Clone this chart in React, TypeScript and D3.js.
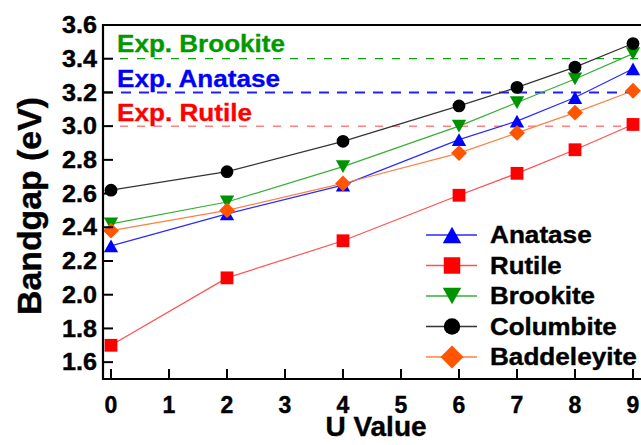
import React from 'react'
import * as d3 from 'd3'

const uValues = [0, 2, 4, 6, 7, 8, 9]
const anatase = [2.29, 2.48, 2.65, 2.92, 3.03, 3.17, 3.34]
const rutile = [1.7, 2.1, 2.32, 2.59, 2.72, 2.86, 3.01]
const brookite = [2.42, 2.55, 2.76, 3.0, 3.14, 3.28, 3.43]
const columbite = [2.62, 2.73, 2.91, 3.12, 3.23, 3.35, 3.49]
const baddeleyite = [2.38, 2.5, 2.66, 2.84, 2.96, 3.08, 3.21]

const xTicks = [0, 1, 2, 3, 4, 5, 6, 7, 8, 9]
const yTicks = [1.6, 1.8, 2.0, 2.2, 2.4, 2.6, 2.8, 3.0, 3.2, 3.4, 3.6]

const expNames = ['Exp. Brookite', 'Exp. Anatase', 'Exp. Rutile']
const expValues = [3.4, 3.2, 3.0]

type Shape = 'triUp' | 'square' | 'triDown' | 'circle' | 'diamond'

const series = [
  { name: 'Anatase', values: anatase, shape: 'triUp' as Shape, fill: '#0000ff', line: '#2a2aff' },
  { name: 'Rutile', values: rutile, shape: 'square' as Shape, fill: '#ff0000', line: '#ff5050' },
  { name: 'Brookite', values: brookite, shape: 'triDown' as Shape, fill: '#009300', line: '#33b033' },
  { name: 'Columbite', values: columbite, shape: 'circle' as Shape, fill: '#000000', line: '#333333' },
  { name: 'Baddeleyite', values: baddeleyite, shape: 'diamond' as Shape, fill: '#ff5500', line: '#ff8040' },
]

// reference lines + their labels
const expStyle = [
  { color: '#009900', dashColor: '#10a010', width: 1.3, dash: '8,9', len: 168, base: 52 },
  { color: '#0000ff', dashColor: '#2020ff', width: 2, dash: '10,8', len: 163, base: 87 },
  { color: '#ff0000', dashColor: '#ff8080', width: 1.5, dash: '8,9', len: 135, base: 120.5 },
]
const legendLens = [101.7, 71.7, 105, 126.7, 146.7]

function marker(shape: Shape, cx: number, cy: number, s: number) {
  if (shape === 'circle') return `M${cx - s / 2},${cy}a${s / 2},${s / 2} 0 1,0 ${s},0a${s / 2},${s / 2} 0 1,0 ${-s},0Z`
  if (shape === 'square') return `M${cx - s / 2},${cy - s / 2}h${s}v${s}h${-s}Z`
  if (shape === 'diamond') return `M${cx},${cy - s * 0.62}L${cx + s * 0.62},${cy}L${cx},${cy + s * 0.62}L${cx - s * 0.62},${cy}Z`
  const w = s * 1.12
  const h = s
  if (shape === 'triUp') return `M${cx},${cy - h / 2}L${cx + w / 2},${cy + h / 2}L${cx - w / 2},${cy + h / 2}Z`
  return `M${cx},${cy + h / 2}L${cx + w / 2},${cy - h / 2}L${cx - w / 2},${cy - h / 2}Z`
}

export default function App() {
  const left = 103
  const top = 25
  const bottom = 379
  const x = d3.scaleLinear().domain([-0.138, 9.14]).range([left, left + 9.278 * 58])
  const y = d3.scaleLinear().domain([1.5, 3.6]).range([bottom, top])
  const line = d3
    .line<number>()
    .x((_, i) => x(uValues[i]))
    .y(d => y(d))
  const font = 'Arial, "Liberation Sans", sans-serif'

  return (
    <svg width={641} height={445} style={{ position: 'absolute', left: 0, top: 0 }} fontFamily={font} fontWeight="bold">
      <rect width={641} height={445} fill="#fff" />

      {expValues.map((v, i) => (
        <g key={expNames[i]}>
          <line x1={left} x2={641} y1={y(v)} y2={y(v)} stroke={expStyle[i].dashColor} strokeWidth={expStyle[i].width} strokeDasharray={expStyle[i].dash} />
          <text x={117} y={expStyle[i].base} fontSize={23} fill={expStyle[i].color} stroke={expStyle[i].color} strokeWidth={0.3} textLength={expStyle[i].len} lengthAdjust="spacingAndGlyphs">
            {expNames[i]}
          </text>
        </g>
      ))}

      {series.map(s => (
        <g key={s.name}>
          <path d={line(s.values) || ''} fill="none" stroke={s.line} strokeWidth={1.2} />
          {s.values.map((v, i) => (
            <path key={i} d={marker(s.shape, x(uValues[i]), y(v), 12.8)} fill={s.fill} />
          ))}
        </g>
      ))}

      {/* axes */}
      <line x1={left} x2={641} y1={top} y2={top} stroke="#000" strokeWidth={2.2} />
      <line x1={left} x2={641} y1={bottom} y2={bottom} stroke="#000" strokeWidth={2.2} />
      <line x1={left} x2={left} y1={top - 1.1} y2={bottom + 1.1} stroke="#000" strokeWidth={2.2} />
      <g stroke="#000">
        {xTicks.map(t => (
          <g key={t}>
            <line x1={x(t)} x2={x(t)} y1={bottom} y2={bottom - 10} strokeWidth={2} />
            <text x={x(t)} y={413} fontSize={23} textAnchor="middle" strokeWidth={0.4}>
              {t}
            </text>
          </g>
        ))}
        {yTicks.map(t => (
          <g key={t}>
            <line x1={left} x2={left + 10} y1={y(t)} y2={y(t)} strokeWidth={2} />
            <text x={97} y={y(t) + 8.2} fontSize={23} textAnchor="end" strokeWidth={0.4} textLength={35} lengthAdjust="spacingAndGlyphs">
              {t.toFixed(1)}
            </text>
          </g>
        ))}
        <text x={376} y={435.5} fontSize={28} textAnchor="middle" strokeWidth={0.4}>
          U Value
        </text>
        <text transform="translate(40.5,206) rotate(-90)" fontSize={34} textAnchor="middle" strokeWidth={0.4} textLength={218} lengthAdjust="spacingAndGlyphs">
          Bandgap (eV)
        </text>
      </g>

      {/* legend */}
      {series.map((s, i) => {
        const cy = 235 + i * 30.5
        return (
          <g key={s.name}>
            <line x1={426} x2={477} y1={cy} y2={cy} stroke={s.line} strokeWidth={1.4} />
            <path d={marker(s.shape, 452, cy, s.shape === 'diamond' ? 18.5 : 16.5)} fill={s.fill} />
            <text x={490} y={cy + 8} fontSize={24.5} stroke="#000" strokeWidth={0.4} textLength={legendLens[i]} lengthAdjust="spacingAndGlyphs">
              {s.name}
            </text>
          </g>
        )
      })}
    </svg>
  )
}
